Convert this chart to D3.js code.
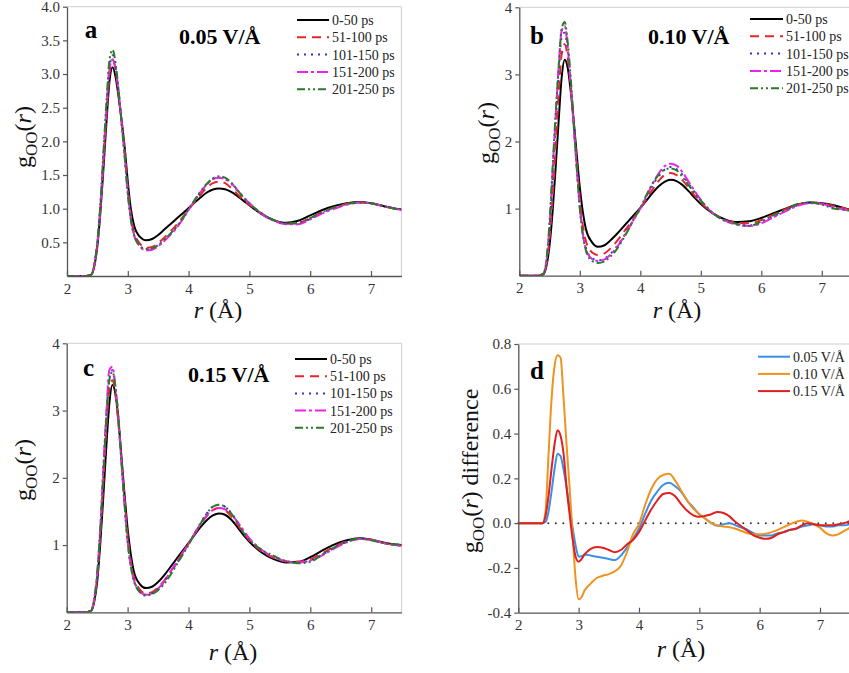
<!DOCTYPE html>
<html><head><meta charset="utf-8">
<script src="https://cdn.jsdelivr.net/npm/d3@7"></script>
<style>body{margin:0;background:#fff}svg{display:block}svg text{font-family:'Liberation Serif','Times New Roman',serif}</style>
</head><body>
<script>
// ---------- DATA ----------
const R = [2.0, 2.3, 2.4, 2.45, 2.5, 2.55, 2.6, 2.65, 2.7, 2.75, 2.8, 2.85, 2.9, 2.95, 3.0, 3.05, 3.1,
  3.2, 3.3, 3.4, 3.5, 3.6, 3.7, 3.8, 3.9, 4.0, 4.1, 4.2, 4.3, 4.4, 4.5, 4.6, 4.7, 4.8, 4.9, 5.0,
  5.2, 5.4, 5.6, 5.8, 6.0, 6.2, 6.4, 6.6, 6.8, 7.0, 7.2, 7.4, 7.5];
const seriesNames = ["0-50 ps", "51-100 ps", "101-150 ps", "151-200 ps", "201-250 ps"];

const aBlack = [0,0,0.02, 0.15,0.45,0.95,1.6,2.3,2.9,3.1,2.95,2.65,2.3,1.9,1.4,1.0,0.76,
  0.58,0.53,0.55,0.61,0.69,0.77,0.85,0.93,1.01,1.09,1.17,1.24,1.285,1.30,1.29,1.25,1.19,1.12,1.05,
  0.92,0.83,0.79,0.82,0.90,0.98,1.04,1.08,1.10,1.08,1.04,1.0,0.99];
const aRed = [0,0,0.02, 0.16,0.48,1.0,1.7,2.4,3.0,3.2,3.05,2.7,2.28,1.82,1.3,0.9,0.66,
  0.48,0.42,0.43,0.49,0.57,0.66,0.76,0.87,0.99,1.1,1.21,1.31,1.38,1.40,1.38,1.31,1.22,1.13,1.06,
  0.93,0.83,0.78,0.79,0.86,0.95,1.02,1.07,1.09,1.08,1.04,1.0,0.98];
const aBlue = [0,0,0.02, 0.17,0.5,1.05,1.78,2.5,3.1,3.28,3.1,2.72,2.25,1.78,1.25,0.85,0.62,
  0.45,0.39,0.4,0.45,0.53,0.62,0.72,0.85,0.99,1.12,1.25,1.36,1.44,1.46,1.44,1.37,1.27,1.17,1.08,
  0.93,0.83,0.78,0.78,0.85,0.94,1.01,1.06,1.09,1.08,1.04,1.0,0.98];
const aMagenta = [0,0,0.02, 0.17,0.5,1.05,1.78,2.5,3.08,3.22,3.08,2.72,2.26,1.78,1.25,0.85,0.61,
  0.44,0.38,0.39,0.44,0.52,0.61,0.71,0.84,0.98,1.12,1.25,1.36,1.44,1.46,1.44,1.38,1.28,1.17,1.08,
  0.92,0.82,0.77,0.77,0.84,0.93,1.0,1.06,1.09,1.08,1.04,1.0,0.98];
const aGreen = [0,0,0.02, 0.17,0.52,1.08,1.85,2.6,3.22,3.36,3.15,2.75,2.25,1.75,1.22,0.84,0.62,
  0.45,0.40,0.41,0.46,0.54,0.63,0.73,0.85,0.99,1.13,1.26,1.37,1.45,1.48,1.46,1.39,1.28,1.17,1.08,
  0.93,0.83,0.78,0.79,0.86,0.95,1.02,1.07,1.09,1.08,1.04,1.0,0.98];

const bBlack = [0,0,0.02, 0.15,0.45,0.95,1.6,2.3,2.95,3.22,3.1,2.75,2.3,1.8,1.32,0.95,0.7,
  0.5,0.43,0.45,0.52,0.61,0.71,0.81,0.91,1.01,1.12,1.23,1.33,1.40,1.43,1.41,1.35,1.26,1.16,1.07,
  0.93,0.84,0.80,0.81,0.86,0.93,1.0,1.06,1.09,1.08,1.05,1.0,0.98];
const bRed = [0,0,0.02, 0.18,0.55,1.15,1.9,2.7,3.3,3.45,3.25,2.8,2.25,1.7,1.15,0.75,0.52,
  0.35,0.31,0.33,0.4,0.5,0.62,0.74,0.87,1.0,1.14,1.28,1.41,1.5,1.53,1.5,1.42,1.31,1.19,1.09,
  0.93,0.83,0.79,0.78,0.83,0.91,0.99,1.06,1.09,1.08,1.04,1.0,0.97];
const bBlue = [0,0,0.03, 0.22,0.7,1.45,2.25,3.0,3.55,3.62,3.35,2.85,2.25,1.62,1.05,0.65,0.42,
  0.26,0.23,0.25,0.32,0.42,0.55,0.7,0.85,1.0,1.17,1.34,1.48,1.58,1.62,1.59,1.5,1.37,1.24,1.12,
  0.93,0.82,0.77,0.75,0.79,0.88,0.97,1.05,1.09,1.07,1.02,0.98,0.96];
const bMagenta = [0,0,0.03, 0.23,0.75,1.55,2.35,3.1,3.65,3.72,3.4,2.85,2.22,1.6,1.03,0.63,0.4,
  0.25,0.22,0.24,0.31,0.41,0.54,0.69,0.85,1.0,1.18,1.36,1.52,1.63,1.67,1.64,1.54,1.4,1.26,1.13,
  0.93,0.82,0.76,0.74,0.78,0.87,0.96,1.04,1.08,1.07,1.02,0.98,0.96];
const bGreen = [0,0,0.03, 0.25,0.8,1.6,2.4,3.1,3.68,3.78,3.48,2.95,2.3,1.6,1.0,0.6,0.38,
  0.22,0.19,0.21,0.28,0.38,0.52,0.68,0.85,1.01,1.2,1.37,1.5,1.58,1.6,1.57,1.47,1.35,1.22,1.12,
  0.93,0.82,0.77,0.74,0.81,0.90,0.98,1.07,1.09,1.06,1.0,0.98,0.96];

const cBlack = [0,0,0.02, 0.15,0.45,1.0,1.7,2.45,3.1,3.38,3.25,2.85,2.3,1.75,1.25,0.88,0.62,
  0.42,0.36,0.38,0.45,0.55,0.67,0.79,0.91,1.03,1.15,1.27,1.37,1.44,1.47,1.45,1.38,1.27,1.15,1.05,
  0.89,0.79,0.74,0.75,0.82,0.92,1.01,1.07,1.1,1.08,1.04,1.01,1.0];
const cRed = [0,0,0.02, 0.17,0.52,1.12,1.9,2.7,3.3,3.45,3.25,2.8,2.25,1.68,1.15,0.78,0.54,
  0.34,0.28,0.3,0.37,0.47,0.6,0.74,0.88,1.02,1.17,1.31,1.43,1.52,1.55,1.52,1.43,1.31,1.18,1.07,
  0.91,0.81,0.76,0.75,0.79,0.88,0.98,1.06,1.09,1.08,1.03,1.0,0.99];
const cBlue = [0,0,0.02, 0.18,0.55,1.2,2.05,2.88,3.48,3.6,3.35,2.88,2.25,1.62,1.08,0.72,0.5,
  0.31,0.26,0.28,0.35,0.45,0.58,0.72,0.87,1.01,1.17,1.33,1.47,1.57,1.6,1.57,1.48,1.35,1.21,1.09,
  0.92,0.82,0.76,0.74,0.77,0.86,0.96,1.05,1.09,1.08,1.03,1.0,0.99];
const cMagenta = [0,0,0.02, 0.19,0.58,1.25,2.12,2.95,3.6,3.65,3.35,2.85,2.22,1.6,1.07,0.71,0.49,
  0.31,0.26,0.28,0.35,0.46,0.6,0.74,0.88,1.02,1.17,1.32,1.44,1.52,1.55,1.53,1.46,1.35,1.22,1.1,
  0.93,0.82,0.76,0.74,0.77,0.85,0.95,1.04,1.09,1.08,1.03,1.0,0.99];
const cGreen = [0,0,0.02, 0.18,0.55,1.2,2.05,2.87,3.45,3.58,3.35,2.9,2.22,1.6,1.05,0.7,0.48,
  0.3,0.25,0.27,0.33,0.42,0.55,0.7,0.85,1.0,1.17,1.32,1.47,1.57,1.6,1.57,1.47,1.34,1.19,1.08,
  0.93,0.84,0.76,0.73,0.75,0.86,0.97,1.05,1.1,1.07,1.03,1.01,1.01];

const dR = [2.0, 2.4, 2.45, 2.5, 2.55, 2.6, 2.65, 2.7, 2.75, 2.8, 2.85, 2.9, 2.95, 3.0, 3.05, 3.1,
  3.2, 3.3, 3.4, 3.5, 3.6, 3.7, 3.8, 3.9, 4.0, 4.1, 4.2, 4.3, 4.4, 4.5, 4.6, 4.7, 4.8, 4.9,
  5.0, 5.1, 5.2, 5.3, 5.4, 5.5, 5.6, 5.7, 5.8, 5.9, 6.0, 6.1, 6.2, 6.3, 6.4, 6.5, 6.6, 6.7, 6.8, 6.9,
  7.0, 7.1, 7.2, 7.3, 7.4, 7.5];
const dNames = ["0.05 V/Å", "0.10 V/Å", "0.15 V/Å"];
const dBlue = [0,0,0.005,0.05,0.14,0.24,0.31,0.3,0.24,0.16,0.07,-0.02,-0.1,-0.15,-0.148,-0.14,
  -0.145,-0.15,-0.155,-0.16,-0.165,-0.145,-0.11,-0.07,-0.025,0.04,0.1,0.14,0.17,0.18,0.165,0.14,0.1,0.07,
  0.04,0.02,0.0,-0.012,-0.005,0.0,-0.01,-0.02,-0.03,-0.045,-0.055,-0.055,-0.055,-0.045,-0.04,-0.03,-0.025,-0.015,-0.01,-0.005,
  -0.01,-0.015,-0.015,-0.01,-0.01,-0.005];
const dOrange = [0,0,0.05,0.3,0.55,0.7,0.75,0.74,0.56,0.35,0.16,-0.05,-0.25,-0.34,-0.33,-0.3,
  -0.27,-0.245,-0.235,-0.228,-0.215,-0.19,-0.13,-0.05,-0.005,0.08,0.15,0.195,0.215,0.22,0.19,0.145,0.1,0.065,
  0.04,0.02,0.0,-0.01,-0.015,-0.018,-0.025,-0.035,-0.045,-0.05,-0.05,-0.047,-0.04,-0.03,-0.018,-0.005,0.005,0.012,0.005,-0.005,
  -0.02,-0.045,-0.055,-0.05,-0.035,-0.02];
const dRed = [0,0,0.03,0.12,0.24,0.35,0.415,0.39,0.31,0.16,0.04,-0.07,-0.15,-0.172,-0.16,-0.14,
  -0.115,-0.107,-0.11,-0.12,-0.13,-0.12,-0.095,-0.075,-0.04,0.01,0.06,0.1,0.13,0.135,0.12,0.085,0.055,0.035,
  0.028,0.033,0.04,0.05,0.045,0.03,0.005,-0.015,-0.035,-0.055,-0.065,-0.07,-0.065,-0.05,-0.04,-0.03,-0.025,-0.01,0.0,-0.005,
  -0.01,-0.01,-0.01,-0.005,0.0,0.01];

const xTicks = [2, 3, 4, 5, 6, 7];
const aYTicks = [0.5, 1.0, 1.5, 2.0, 2.5, 3.0, 3.5, 4.0];
const bcYTicks = [1, 2, 3, 4];
const dYTicks = [-0.4, -0.2, 0.0, 0.2, 0.4, 0.6, 0.8];

// ---------- STYLES ----------
const gStyles = [
  {color: "#000000", dash: null},
  {color: "#e8262a", dash: "9,6"},
  {color: "#3434c8", dash: "2,5"},
  {color: "#ee22ee", dash: "11,3,3,3"},
  {color: "#2a7a2a", dash: "8,3,2,3,2,3"}
];
const dStyles = [
  {color: "#3a8fe6", dash: null},
  {color: "#f0921e", dash: null},
  {color: "#e01f1f", dash: null}
];

const FONT = "'Liberation Serif','Times New Roman',serif";
const svg = d3.select("body").append("svg").attr("width", 849).attr("height", 673)
  .attr("font-family", FONT);

let clipId = 0;
function panel(cfg) {
  const x = d3.scaleLinear().domain([2, 7.5]).range([cfg.left, cfg.left + 5.5 * cfg.unit]);
  const y = d3.scaleLinear().domain(cfg.yDomain).range([cfg.bottom, cfg.top]);
  const g = svg.append("g");
  const id = "clip" + (clipId++);
  g.append("clipPath").attr("id", id).append("rect")
    .attr("x", x(2)).attr("y", y(cfg.yDomain[1]) - 2)
    .attr("width", x(7.5) - x(2)).attr("height", y(cfg.yDomain[0]) - y(cfg.yDomain[1]) + 2);

  g.append("line").attr("x1", x(2)).attr("x2", x(7.5)).attr("y1", y(cfg.yDomain[1])).attr("y2", y(cfg.yDomain[1]))
    .attr("stroke", "#cfcfcf").attr("stroke-width", 1);
  g.append("line").attr("x1", x(7.5)).attr("x2", x(7.5)).attr("y1", y(cfg.yDomain[1])).attr("y2", y(cfg.yDomain[0]))
    .attr("stroke", "#cfcfcf").attr("stroke-width", 1);

  if (cfg.zeroLine) {
    g.append("line").attr("x1", x(2)).attr("x2", x(7.5)).attr("y1", y(0)).attr("y2", y(0))
      .attr("stroke", "#333").attr("stroke-width", 2).attr("stroke-dasharray", "0,7.5")
      .attr("stroke-linecap", "round");
  }

  const line = d3.line().x(d => x(d[0])).y(d => y(d[1])).curve(d3.curveMonotoneX);
  const lines = g.append("g").attr("clip-path", `url(#${id})`);
  cfg.series.forEach((s, i) => {
    const st = cfg.styles[i];
    lines.append("path").datum(cfg.r.map((rv, k) => [rv, s[k]]))
      .attr("d", line).attr("fill", "none").attr("stroke", st.color)
      .attr("stroke-width", cfg.lw || 2)
      .attr("stroke-dasharray", st.dash);
  });

  const xa = g.append("g").attr("transform", `translate(0,${y(cfg.yDomain[0])})`)
    .call(d3.axisBottom(x).tickValues(xTicks).tickFormat(d3.format("d")).tickSizeInner(-5).tickSizeOuter(0).tickPadding(7));
  const ya = g.append("g").attr("transform", `translate(${x(2)},0)`)
    .call(d3.axisLeft(y).tickValues(cfg.yTicks).tickFormat(cfg.yFmt).tickSizeInner(4).tickSizeOuter(0).tickPadding(3));
  [xa, ya].forEach(a => {
    a.attr("font-family", FONT).attr("font-size", 15);
    a.select(".domain").attr("stroke", "#555").attr("stroke-width", 1.3);
    a.selectAll(".tick line").attr("stroke", "#555").attr("stroke-width", 1.2);
    a.selectAll(".tick text").attr("fill", "#333");
  });

  g.append("text").attr("x", cfg.letter[1]).attr("y", cfg.letter[2]).attr("text-anchor", "middle")
    .style("font-size", "25px").style("font-weight", "bold").text(cfg.letter[0]);
  if (cfg.field) {
    g.append("text").attr("x", cfg.field[1]).attr("y", cfg.field[2])
      .style("font-size", "22px").style("font-weight", "bold").text(cfg.field[0]);
  }

  cfg.names.forEach((n, i) => {
    const yy = cfg.legend.y + i * cfg.legend.dy;
    const st = cfg.styles[i];
    g.append("line").attr("x1", cfg.legend.x1).attr("x2", cfg.legend.x2).attr("y1", yy).attr("y2", yy)
      .attr("stroke", st.color).attr("stroke-width", 2).attr("stroke-dasharray", st.dash);
    g.append("text").attr("x", cfg.legend.tx).attr("y", yy + 5).style("font-size", "14px")
      .attr("fill", "#222").text(n);
  });

  const yt = g.append("text").attr("transform", `translate(${cfg.yTitle[0]},${cfg.yTitle[1]}) rotate(-90)`)
    .attr("text-anchor", "middle").style("font-size", "24px").attr("fill", "#111");
  yt.append("tspan").text("g");
  yt.append("tspan").style("font-size", "17px").attr("dy", 6).text("OO");
  yt.append("tspan").attr("dy", -6).text("(");
  yt.append("tspan").style("font-style", "italic").text("r");
  yt.append("tspan").text(")" + (cfg.yExtra || ""));

  const xt = g.append("text").attr("x", cfg.xTitle[0]).attr("y", cfg.xTitle[1])
    .attr("text-anchor", "middle").style("font-size", "24px").attr("fill", "#111");
  xt.append("tspan").style("font-style", "italic").text("r");
  xt.append("tspan").text(" (Å)");
}

const fmt1 = d3.format(".1f");
const fmtD = v => fmt1(v).replace("−", "-");

panel({left: 67, unit: 60.8, top: 6.7, bottom: 276, yDomain: [0, 4], yTicks: aYTicks, yFmt: fmt1,
  r: R, series: [aBlack, aRed, aBlue, aMagenta, aGreen], styles: gStyles, names: seriesNames,
  letter: ["a", 91, 38], field: ["0.05 V/Å", 179, 44],
  legend: {x1: 297, x2: 329, tx: 332, y: 20, dy: 17.3},
  yTitle: [31, 137], xTitle: [218, 318]});

panel({left: 519.3, unit: 60.5, top: 7.3, bottom: 275.7, yDomain: [0, 4], yTicks: bcYTicks, yFmt: d3.format("d"),
  r: R, series: [bBlack, bRed, bBlue, bMagenta, bGreen], styles: gStyles, names: seriesNames,
  letter: ["b", 537, 44], field: ["0.10 V/Å", 648, 44],
  legend: {x1: 750, x2: 783, tx: 786, y: 19, dy: 17.3},
  yTitle: [494, 133], xTitle: [677, 318]});

panel({left: 66.7, unit: 60.9, top: 343.3, bottom: 612.3, yDomain: [0, 4], yTicks: bcYTicks, yFmt: d3.format("d"),
  r: R, series: [cBlack, cRed, cBlue, cMagenta, cGreen], styles: gStyles, names: seriesNames,
  letter: ["c", 88.5, 376], field: ["0.15 V/Å", 188, 382],
  legend: {x1: 295, x2: 327, tx: 330, y: 359, dy: 17.2},
  yTitle: [31, 470], xTitle: [233, 660]});

panel({left: 518.3, unit: 60.34, top: 344, bottom: 612.7, yDomain: [-0.4, 0.8], yTicks: dYTicks, yFmt: fmtD,
  r: dR, series: [dBlue, dOrange, dRed], styles: dStyles, names: dNames, zeroLine: true,
  letter: ["d", 537, 379], field: null,
  legend: {x1: 758, x2: 790, tx: 793, y: 356.7, dy: 17.2},
  yTitle: [478, 471], yExtra: " difference", xTitle: [681, 657]});
</script>
</body></html>
